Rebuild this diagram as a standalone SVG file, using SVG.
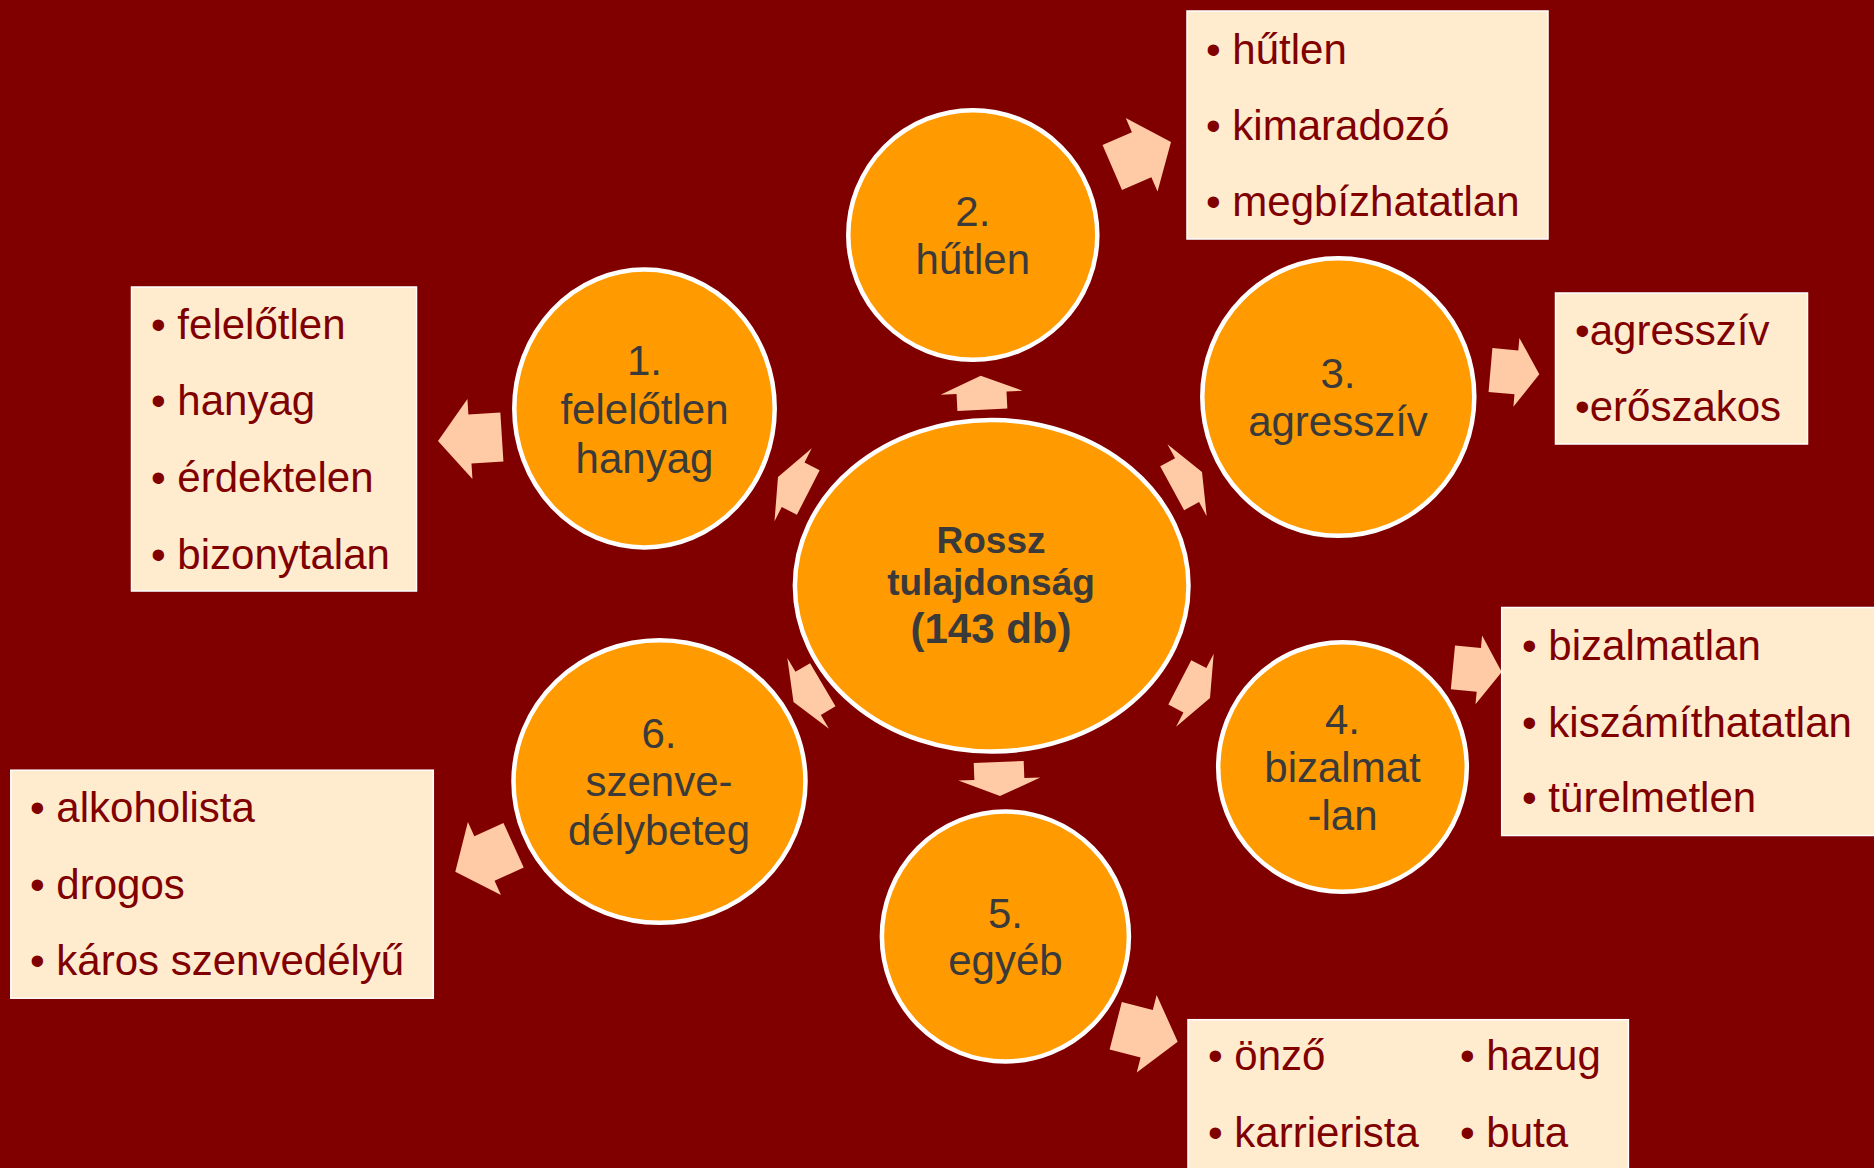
<svg xmlns="http://www.w3.org/2000/svg" xmlns:xlink="http://www.w3.org/1999/xlink" width="1874" height="1168" viewBox="0 0 1874 1168">
<style>
.bg{fill:#800000}
.circ{fill:#FF9A00;stroke:#FFFFFF;stroke-width:4.5}
.box{fill:#FFEBCD;stroke:#FFFFFF;stroke-width:1.5}
.ct{font-family:"Liberation Sans",Arial,sans-serif;font-size:42px;fill:#3A3A3A;text-anchor:middle}
.cb{font-family:"Liberation Sans",Arial,sans-serif;font-weight:bold;fill:#3A3A3A;text-anchor:middle}
.bt{font-family:"Liberation Sans",Arial,sans-serif;font-size:42px;fill:#800000}
.arr{fill:#FFCAA6}
</style>
<defs>
<polygon id="arrC" points="0,0 -17,-41 -17,-25 -34,-25 -34,25 -17,25 -17,41"/>
<polygon id="arrL" points="0,0 -32,-40 -32,-24.5 -64,-24.5 -64,24.5 -32,24.5 -32,40"/>
<polygon id="arrS" points="0,0 -23,-34.5 -23,-22 -49,-22 -49,22 -23,22 -23,34.5"/>
</defs>
<rect class="bg" x="0" y="0" width="1874" height="1168"/>

<g id="connectors" class="arr">
<use xlink:href="#arrC" href="#arrC" transform="translate(778,477) rotate(-152.95)"/>
<use xlink:href="#arrC" href="#arrC" transform="translate(980.7,375.7) rotate(-92.8)"/>
<use xlink:href="#arrC" href="#arrC" transform="translate(1202,472) rotate(-28.6)"/>
<use xlink:href="#arrC" href="#arrC" transform="translate(1210,698) rotate(27.3)"/>
<use xlink:href="#arrC" href="#arrC" transform="translate(1000,796) rotate(87.8)"/>
<use xlink:href="#arrC" href="#arrC" transform="translate(793.5,702) rotate(149.5)"/>
<use xlink:href="#arrL" href="#arrL" transform="translate(438,441) rotate(176.4)"/>
<use xlink:href="#arrL" href="#arrL" transform="translate(1171,142) rotate(-23.4)"/>
<use xlink:href="#arrS" href="#arrS" transform="translate(1539.3,374.3) rotate(5)"/>
<use xlink:href="#arrS" href="#arrS" transform="translate(1501.7,672) rotate(5.5)"/>
<use xlink:href="#arrL" href="#arrL" transform="translate(1177.7,1041.7) rotate(14.4)"/>
<use xlink:href="#arrL" href="#arrL" transform="translate(455.3,871.7) rotate(155.6)"/>
</g>

<g id="center">
<ellipse class="circ" cx="991.7" cy="585.8" rx="196.8" ry="165.8"/>
<text class="cb" x="991" y="553" font-size="37">Rossz</text>
<text class="cb" x="991" y="595" font-size="37">tulajdonság</text>
<text class="cb" x="991" y="643" font-size="42">(143 db)</text>
</g>

<g id="node1">
<ellipse class="circ" cx="644.5" cy="408.5" rx="130.2" ry="138.9"/>
<text class="ct" x="644.5" y="375">1.</text>
<text class="ct" x="644.5" y="424">felelőtlen</text>
<text class="ct" x="644.5" y="473">hanyag</text>
</g>

<g id="node2">
<ellipse class="circ" cx="972.8" cy="235" rx="124.5" ry="124.8"/>
<text class="ct" x="972.8" y="226">2.</text>
<text class="ct" x="972.8" y="274">hűtlen</text>
</g>

<g id="node3">
<ellipse class="circ" cx="1338.3" cy="397" rx="136" ry="138.8"/>
<text class="ct" x="1338" y="388">3.</text>
<text class="ct" x="1338" y="436">agresszív</text>
</g>

<g id="node4">
<ellipse class="circ" cx="1342.5" cy="767" rx="124.3" ry="124.8"/>
<text class="ct" x="1342.5" y="734">4.</text>
<text class="ct" x="1342.5" y="782">bizalmat</text>
<text class="ct" x="1342.5" y="830">-lan</text>
</g>

<g id="node5">
<ellipse class="circ" cx="1005.4" cy="936.5" rx="123.5" ry="125"/>
<text class="ct" x="1005.4" y="928">5.</text>
<text class="ct" x="1005.4" y="975">egyéb</text>
</g>

<g id="node6">
<ellipse class="circ" cx="659.5" cy="781.5" rx="146" ry="141.3"/>
<text class="ct" x="659" y="748">6.</text>
<text class="ct" x="659" y="796">szenve-</text>
<text class="ct" x="659" y="845">délybeteg</text>
</g>

<g id="box1">
<rect class="box" x="131.5" y="287" width="285" height="304"/>
<text class="bt" x="151" y="339">• felelőtlen</text>
<text class="bt" x="151" y="415">• hanyag</text>
<text class="bt" x="151" y="492">• érdektelen</text>
<text class="bt" x="151" y="569">• bizonytalan</text>
</g>

<g id="box2">
<rect class="box" x="1187" y="11" width="361" height="228"/>
<text class="bt" x="1206" y="64">• hűtlen</text>
<text class="bt" x="1206" y="140">• kimaradozó</text>
<text class="bt" x="1206" y="216">• megbízhatatlan</text>
</g>

<g id="box3">
<rect class="box" x="1555.5" y="293" width="252" height="151"/>
<text class="bt" x="1575" y="344.5">•agresszív</text>
<text class="bt" x="1575" y="421">•erőszakos</text>
</g>

<g id="box4">
<rect class="box" x="1501.7" y="607.5" width="380" height="228"/>
<text class="bt" x="1522" y="660">• bizalmatlan</text>
<text class="bt" x="1522" y="737">• kiszámíthatatlan</text>
<text class="bt" x="1522" y="812">• türelmetlen</text>
</g>

<g id="box5">
<rect class="box" x="1188" y="1019.7" width="440.4" height="160"/>
<text class="bt" x="1208" y="1070">• önző</text>
<text class="bt" x="1208" y="1147">• karrierista</text>
<text class="bt" x="1460" y="1070">• hazug</text>
<text class="bt" x="1460" y="1147">• buta</text>
</g>

<g id="box6">
<rect class="box" x="10.8" y="770.2" width="422.5" height="228"/>
<text class="bt" x="30" y="822">• alkoholista</text>
<text class="bt" x="30" y="899">• drogos</text>
<text class="bt" x="30" y="975">• káros szenvedélyű</text>
</g>
</svg>
